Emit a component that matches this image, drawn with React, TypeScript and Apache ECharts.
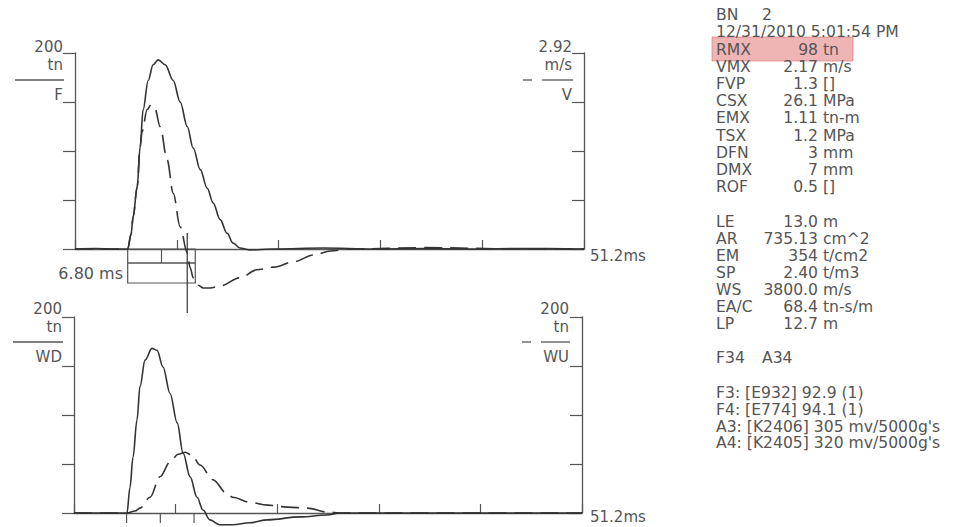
import React, { useEffect, useRef } from 'react';
import * as echarts from 'echarts';

// ---------- data ----------
const timeMax = 51.2; // ms
const timeTickStep = 10.24;
const forceMax = 200; // tn
const velocityMax = 2.92; // m/s

// Force F (tn) and velocity V (m/s) vs time (ms)
const fPoints: [number, number][] = [
  [0, 0], [2, 0.5], [4, 0], [5.3, 0], [5.64, 15], [5.85, 33], [6.25, 63], [6.55, 104], [6.85, 142],
  [7.36, 172], [7.86, 188], [8.37, 193], [9.07, 188], [9.88, 172], [10.58, 150], [11.29, 125],
  [11.89, 103], [12.6, 81], [13.3, 62], [13.9, 47], [14.6, 30], [15.3, 16], [15.9, 6], [16.6, 1],
  [17.6, -1], [20, 0], [25, 1], [30, 0], [35, 0.5], [40, 0], [45, 0.5], [51.2, 0],
];
const vPoints: [number, number][] = [
  [0, 0], [5.3, 0], [5.64, 0.22], [5.85, 0.48], [6.25, 0.92], [6.55, 1.52], [6.75, 1.75], [7.26, 2.08],
  [7.66, 2.15], [8.06, 2.08], [8.57, 1.82], [9.27, 1.33], [9.88, 0.83], [10.58, 0.33], [11.29, -0.06],
  [11.59, -0.28], [11.89, -0.43], [12.4, -0.54], [12.9, -0.58], [13.6, -0.58], [14.6, -0.55],
  [16.6, -0.43], [18.3, -0.31], [20, -0.27], [22, -0.19], [24, -0.09], [25.7, -0.03], [27.7, 0],
  [35, 0.02], [45, 0], [51.2, 0],
];
// Wave down WD and wave up WU (tn)
const wdPoints: [number, number][] = [
  [0, 0], [3, 0], [5.34, 0], [5.64, 26], [5.95, 57], [6.35, 95], [6.65, 129], [7.16, 156], [7.86, 168],
  [8.37, 166], [8.97, 149], [9.68, 122], [10.4, 92], [11.0, 61], [11.7, 37], [12.4, 16], [13.0, 3],
  [13.7, -7], [14.7, -12], [16.0, -12], [17.7, -10], [19.5, -7], [22.8, -4], [25.5, -2], [26.8, 0],
  [35, 0], [45, 0], [51.2, 0],
];
const wuPoints: [number, number][] = [
  [0, 0], [3, 0], [5.34, 0], [6.15, 2], [6.65, 5], [7.66, 16], [8.67, 37], [9.68, 52], [10.5, 60],
  [11.2, 62], [11.9, 59], [12.7, 49], [14.0, 34], [15.4, 20], [16.0, 16], [17.7, 11], [19.5, 8],
  [21.5, 6], [23.5, 5], [25.5, 1], [26.8, 0], [35, 0], [45, 0], [51.2, 0],
];

// 2L/c marker (ms)
const markerStart = 5.3;
const markerWidth = 6.8;
const markerLabel = '6.80 ms';
const cursorTime = 11.29;
const lowerMarkTimes = [5.3, 8.7, 12.1];

// axis labels
const topLeftLabels = ['200', 'tn', 'F'];
const topRightLabels = ['2.92', 'm/s', 'V'];
const bottomLeftLabels = ['200', 'tn', 'WD'];
const bottomRightLabels = ['200', 'tn', 'WU'];
const timeEndLabel = '51.2ms';

// info block
const blowNumber = ['BN', '2'];
const dateLine = '12/31/2010 5:01:54 PM';
const measuredRows: [string, string, string][] = [
  ['RMX', '98', 'tn'], ['VMX', '2.17', 'm/s'], ['FVP', '1.3', '[]'], ['CSX', '26.1', 'MPa'],
  ['EMX', '1.11', 'tn-m'], ['TSX', '1.2', 'MPa'], ['DFN', '3', 'mm'], ['DMX', '7', 'mm'], ['ROF', '0.5', '[]'],
];
const pileRows: [string, string, string][] = [
  ['LE', '13.0', 'm'], ['AR', '735.13', 'cm^2'], ['EM', '354', 't/cm2'], ['SP', '2.40', 't/m3'],
  ['WS', '3800.0', 'm/s'], ['EA/C', '68.4', 'tn-s/m'], ['LP', '12.7', 'm'],
];
const gaugeNames = ['F34', 'A34'];
const sensorLines = [
  'F3: [E932] 92.9 (1)',
  'F4: [E774] 94.1 (1)',
  "A3: [K2406] 305 mv/5000g's",
  "A4: [K2405] 320 mv/5000g's",
];

// ---------- styles ----------
const INK = '#333';
const AXIS = '#555';
const TEXT = '#555';
const FONT = '"DejaVu Sans", Verdana, sans-serif';

function txt(text: string, x: number, y: number, align: string, size = 15, fill = TEXT) {
  return {
    type: 'text',
    z: 10,
    style: {
      text, x, y, fill,
      font: `${size}px ${FONT}`,
      fontSize: size, fontFamily: FONT,
      align, verticalAlign: 'middle',
      textAlign: align, textVerticalAlign: 'middle',
    },
  };
}
function hline(x1: number, x2: number, y: number) {
  return { type: 'line', z: 10, shape: { x1, y1: y, x2, y2: y }, style: { stroke: AXIS, lineWidth: 1.3 } };
}

function axisLabelBlock(labels: string[], xRight: number, yTop: number, lineX1: number, dashed: boolean) {
  const els: any[] = [
    txt(labels[0], xRight, yTop, 'right'),
    txt(labels[1], xRight, yTop + 18, 'right'),
    txt(labels[2], xRight, yTop + 48, 'right'),
  ];
  if (dashed) {
    els.push(hline(lineX1 - 19, lineX1 - 10, yTop + 33));
    els.push(hline(lineX1, xRight + 1, yTop + 33));
  } else {
    els.push(hline(lineX1, xRight + 1, yTop + 33));
  }
  return els;
}

function buildGraphics() {
  const g: any[] = [];
  g.push(...axisLabelBlock(topLeftLabels, 63, 47, 15, false));
  g.push(...axisLabelBlock(topRightLabels, 572, 47, 542, true));
  g.push(...axisLabelBlock(bottomLeftLabels, 62, 309, 13, false));
  g.push(...axisLabelBlock(bottomRightLabels, 569, 309, 541, true));
  g.push(txt(timeEndLabel, 590, 256, 'left'));
  g.push(txt(timeEndLabel, 590, 517, 'left'));
  g.push(txt(markerLabel, 123, 273, 'right', 16));

  // info block
  const fs = 15.6;
  const lx = 716, vr = 818, ux = 823, col2 = 762;
  g.push({ type: 'rect', z: 5, shape: { x: 712, y: 37, width: 141, height: 24 }, style: { fill: 'rgba(226,120,120,0.55)', stroke: 'rgba(220,110,110,0.6)', lineWidth: 1 } });
  g.push(txt(blowNumber[0], lx, 15, 'left', fs));
  g.push(txt(blowNumber[1], col2, 15, 'left', fs));
  g.push(txt(dateLine, lx, 32, 'left', fs));
  measuredRows.forEach((r, i) => {
    const y = 50 + i * 17.1;
    g.push(txt(r[0], lx, y, 'left', fs));
    g.push(txt(r[1], vr, y, 'right', fs));
    g.push(txt(r[2], ux, y, 'left', fs));
  });
  pileRows.forEach((r, i) => {
    const y = 222 + i * 17;
    g.push(txt(r[0], lx, y, 'left', fs));
    g.push(txt(r[1], vr, y, 'right', fs));
    g.push(txt(r[2], ux, y, 'left', fs));
  });
  g.push(txt(gaugeNames[0], lx, 358, 'left', fs));
  g.push(txt(gaugeNames[1], col2, 358, 'left', fs));
  sensorLines.forEach((s, i) => g.push(txt(s, lx, 393 + i * 16.8, 'left', fs)));
  return g;
}

const lineSeries = (name: string, data: [number, number][], x: number, y: number, dashed: boolean) => ({
  name, type: 'line', xAxisIndex: x, yAxisIndex: y, data,
  showSymbol: false, symbol: 'none', clip: false, smooth: 0.35, smoothMonotone: 'x',
  lineStyle: { color: INK, width: 1.6, type: dashed ? [18, 8] : 'solid' },
  z: 3,
});

export default function App() {
  const ref = useRef<HTMLDivElement>(null);
  useEffect(() => {
    if (!ref.current) return;
    const chart = echarts.init(ref.current, undefined, { renderer: 'svg' });
    const xAxisBase = (gridIndex: number) => ({
      type: 'value', gridIndex, min: 0, max: timeMax, interval: timeTickStep,
      axisLine: { show: true, onZero: true, lineStyle: { color: AXIS, width: 1.3 } },
      axisTick: { show: true, inside: true, length: 9, lineStyle: { color: AXIS, width: 1.2 } },
      axisLabel: { show: false }, splitLine: { show: false },
    });
    const yAxisBase = (gridIndex: number, position: string, max: number, inside: boolean) => ({
      type: 'value', gridIndex, position, min: 0, max, interval: max / 4,
      axisLine: { show: true, lineStyle: { color: AXIS, width: 1.3 } },
      axisTick: { show: true, inside, length: 12, lineStyle: { color: AXIS, width: 1.2 } },
      axisLabel: { show: false }, splitLine: { show: false },
    });
    chart.setOption({
      animation: false,
      backgroundColor: '#ffffff',
      grid: [
        { left: 75, top: 53, width: 509, height: 196 },
        { left: 74, top: 317, width: 508, height: 196 },
      ],
      xAxis: [xAxisBase(0), xAxisBase(1)],
      yAxis: [
        yAxisBase(0, 'left', forceMax, false),
        yAxisBase(0, 'right', velocityMax, true),
        yAxisBase(1, 'left', forceMax, false),
        yAxisBase(1, 'right', forceMax, true),
      ],
      series: [
        lineSeries('F', fPoints, 0, 0, false),
        lineSeries('V', vPoints, 0, 1, true),
        lineSeries('WD', wdPoints, 1, 2, false),
        lineSeries('WU', wuPoints, 1, 3, true),
        {
          type: 'custom', xAxisIndex: 0, yAxisIndex: 0, clip: false, silent: true,
          data: [[markerStart, markerWidth, cursorTime]],
          renderItem: (params: any, api: any) => {
            const s = api.value(0), w = api.value(1), c = api.value(2);
            const p0 = api.coord([s, 0]);
            const p1 = api.coord([s + w, 0]);
            const pm = api.coord([s + w / 2, 0]);
            const pc = api.coord([c, 0]);
            const st = { stroke: AXIS, fill: 'none', lineWidth: 1.2 };
            return {
              type: 'group',
              children: [
                { type: 'rect', shape: { x: p0[0], y: p0[1], width: p1[0] - p0[0], height: 14 }, style: st },
                { type: 'line', shape: { x1: pm[0], y1: p0[1], x2: pm[0], y2: p0[1] + 14 }, style: st },
                { type: 'rect', shape: { x: p0[0], y: p0[1] + 14, width: p1[0] - p0[0], height: 20 }, style: st },
                { type: 'line', shape: { x1: pc[0], y1: pc[1] - 16, x2: pc[0], y2: pc[1] + 64 }, style: { stroke: INK, lineWidth: 1.2 } },
              ],
            };
          },
        },
        {
          type: 'custom', xAxisIndex: 1, yAxisIndex: 2, clip: false, silent: true,
          data: lowerMarkTimes.map((t) => [t]),
          renderItem: (params: any, api: any) => {
            const p = api.coord([api.value(0), 0]);
            return { type: 'line', shape: { x1: p[0], y1: p[1], x2: p[0], y2: p[1] + 10 }, style: { stroke: AXIS, lineWidth: 1.2 } };
          },
        },
      ],
      graphic: buildGraphics(),
    });
    return () => chart.dispose();
  }, []);
  return (
    <div style={{ position: 'absolute', left: 0, top: 0, width: 954, height: 527, background: '#fff' }}>
      <div ref={ref} style={{ width: 954, height: 527 }} />
    </div>
  );
}
